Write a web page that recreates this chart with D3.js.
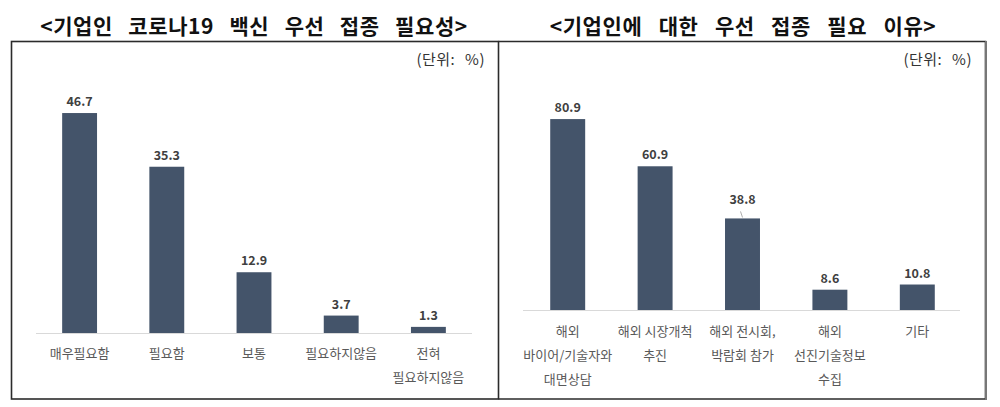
<!DOCTYPE html>
<html><head><meta charset="utf-8">
<script src="https://cdn.jsdelivr.net/npm/d3@7"></script>
<style>
html,body{margin:0;padding:0;background:#fff;}
svg{display:block;font-family:"Noto Sans CJK KR","Noto Sans",sans-serif;}
</style></head>
<body>
<svg id="chart" width="1000" height="407"></svg>
<script>
// ---- data ----
const leftTitle = "<기업인 코로나19 백신 우선 접종 필요성>";
const leftCategories = ["매우필요함", "필요함", "보통", "필요하지않음", "전혀\n필요하지않음"];
const leftValues = [46.7, 35.3, 12.9, 3.7, 1.3];

const rightTitle = "<기업인에 대한 우선 접종 필요 이유>";
const rightCategories = ["해외\n바이어/기술자와\n대면상담", "해외 시장개척\n추진", "해외 전시회,\n박람회 참가", "해외\n선진기술정보\n수집", "기타"];
const rightValues = [80.9, 60.9, 38.8, 8.6, 10.8];

const unitLabel = "(단위: %)";

// ---- drawing ----
const svg = d3.select("#chart");
const barColor = "#44546a";

// panel frames
svg.append("rect").attr("x", 11.5).attr("y", 41.5).attr("width", 487).attr("height", 357.5)
  .attr("fill", "none").attr("stroke", "#2b2b2b").attr("stroke-width", 1.6);
svg.append("path").attr("d", "M498.5,41.5 H985.5 V399 H498.5")
  .attr("fill", "none").attr("stroke", "#2b2b2b").attr("stroke-width", 1.6);
svg.append("line").attr("x1", 986).attr("x2", 986).attr("y1", 41).attr("y2", 400)
  .attr("stroke", "#777").attr("stroke-width", 2);

function drawPanel(cfg) {
  const g = svg.append("g");
  // title
  g.append("text").attr("x", cfg.titleX).attr("y", 34).attr("text-anchor", "middle")
    .attr("font-size", 21).attr("font-weight", 700).attr("fill", "#111")
    .attr("word-spacing", cfg.titleWS).attr("letter-spacing", 0.6)
    .text(cfg.title);
  // unit
  g.append("text").attr("x", cfg.unitX).attr("y", 65).attr("text-anchor", "end")
    .attr("font-size", 15).attr("fill", "#333").attr("word-spacing", 6)
    .attr("letter-spacing", 0.5).text(unitLabel);

  const x = d3.scaleBand().domain(cfg.categories)
    .range([cfg.x0, cfg.x1]).paddingInner(0.6).paddingOuter(0.3);
  const y = d3.scaleLinear().domain([0, cfg.max]).range([cfg.base, cfg.top]);

  // baseline axis
  const axis = d3.axisBottom(x).tickSize(0).tickFormat("");
  const ag = g.append("g").attr("transform", `translate(0,${cfg.base})`).call(axis);
  ag.select(".domain").attr("stroke", "#d9d9d9").attr("stroke-width", 1)
    .attr("d", `M${cfg.ax0},0.5H${cfg.ax1}`);

  const data = cfg.categories.map((c, i) => ({c, v: cfg.values[i], i}));
  g.selectAll("rect.bar").data(data).join("rect").attr("class", "bar")
    .attr("x", d => x(d.c)).attr("width", x.bandwidth())
    .attr("y", d => y(d.v)).attr("height", d => cfg.base - y(d.v))
    .attr("fill", barColor);

  // value labels
  g.selectAll("text.val").data(data).join("text").attr("class", "val")
    .attr("x", d => x(d.c) + x.bandwidth() / 2)
    .attr("y", d => y(d.v) - 7 - (cfg.leader === d.i ? 7 : 0))
    .attr("text-anchor", "middle").attr("font-size", 12.5).attr("font-weight", 700)
    .attr("fill", "#404040").text(d => d.v.toFixed(1));

  if (cfg.leader !== undefined) {
    const d = data[cfg.leader];
    const cx = x(d.c) + x.bandwidth() / 2;
    g.append("line").attr("x1", cx).attr("x2", cx - 2)
      .attr("y1", y(d.v) - 1).attr("y2", y(d.v) - 7)
      .attr("stroke", "#999").attr("stroke-width", 0.8);
  }

  // category labels
  const cl = g.selectAll("text.cat").data(data).join("text").attr("class", "cat")
    .attr("text-anchor", "middle").attr("font-size", 13).attr("fill", "#595959");
  cl.each(function(d) {
    const lines = d.c.split("\n");
    const t = d3.select(this);
    lines.forEach((ln, k) => {
      t.append("tspan").attr("x", x(d.c) + x.bandwidth() / 2)
        .attr("y", cfg.base + cfg.labelOffset + k * 24).text(ln);
    });
  });
}

drawPanel({
  title: leftTitle, titleX: 254, titleWS: 10, unitX: 485,
  categories: leftCategories, values: leftValues,
  x0: 36, x1: 472, ax0: 36, ax1: 472, base: 333, top: 97.5, max: 50, labelOffset: 25
});
drawPanel({
  title: rightTitle, titleX: 743, titleWS: 11, unitX: 972,
  categories: rightCategories, values: rightValues,
  x0: 524, x1: 961, ax0: 523, ax1: 960, base: 310, top: 74, max: 100, labelOffset: 26, leader: 2
});
</script>
</body></html>
